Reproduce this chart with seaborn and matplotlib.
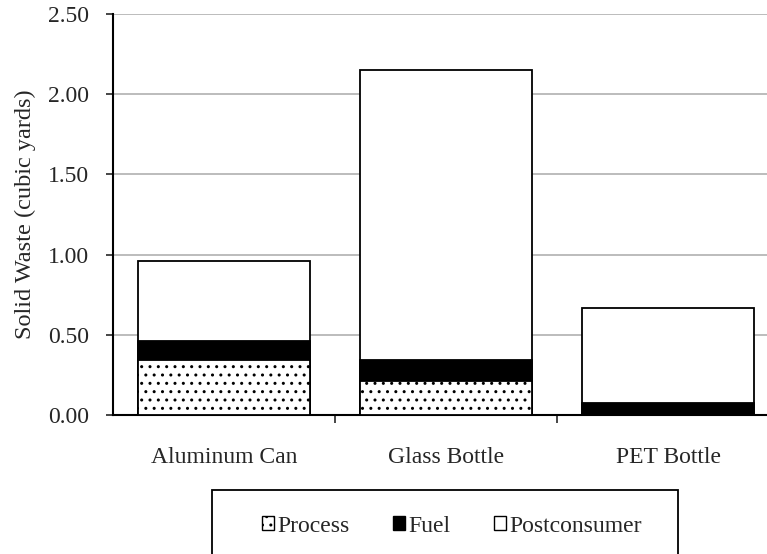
import matplotlib
matplotlib.use("Agg")
import matplotlib.pyplot as plt
import seaborn as sns
import pandas as pd
from matplotlib.patches import Patch, Rectangle

categories = ["Aluminum Can", "Glass Bottle", "PET Bottle"]
process = [0.34, 0.21, 0.0]
fuel = [0.12, 0.13, 0.075]
postconsumer = [0.50, 1.81, 0.595]
yticks = [0.0, 0.5, 1.0, 1.5, 2.0, 2.5]

sns.set_theme(style="white")
plt.rcParams["font.family"] = ["Liberation Serif", "DejaVu Serif"]
plt.rcParams["hatch.linewidth"] = 1.0
plt.rcParams["hatch.color"] = "#666666"

df = pd.DataFrame({"cat": categories, "process": process, "fuel": fuel, "post": postconsumer})
df["pf"] = df["process"] + df["fuel"]
df["total"] = df["pf"] + df["post"]

fig = plt.figure(figsize=(7.67, 5.54), dpi=100)
ax = fig.add_axes([113 / 767, 1 - 415 / 554, 666 / 767, 401 / 554])

w = 0.775
sns.barplot(data=df, x="cat", y="total", color="white", edgecolor="black", linewidth=1.3,
            width=w, saturation=1, ax=ax, zorder=3)
sns.barplot(data=df, x="cat", y="pf", color="black", edgecolor="black", linewidth=1.3,
            width=w, saturation=1, ax=ax, zorder=3)
sns.barplot(data=df, x="cat", y="process", color="white", edgecolor="black", linewidth=1.3,
            width=w, saturation=1, ax=ax, zorder=3, hatch="..")

ax.set_xlim(-0.5, 2.5)
ax.set_ylim(0, 2.5)
ax.set_yticks(yticks)
ax.set_yticklabels([f"{v:.2f}" for v in yticks])
ax.yaxis.grid(True, color="#b0b0b0", linewidth=1.2, zorder=0)
ax.set_axisbelow(True)
ax.set_xticks([0, 1, 2])
ax.set_xticklabels(categories)
ax.set_xlabel("")
ax.set_ylabel("Solid Waste (cubic yards)", fontsize=17.5, labelpad=9)
ax.tick_params(axis="y", which="both", left=True, length=5, width=1.2, labelsize=17, pad=12)
ax.tick_params(axis="x", which="major", bottom=False, labelsize=17, pad=17)
ax.set_xticks([0.5, 1.5], minor=True)
ax.tick_params(axis="x", which="minor", bottom=True, length=6, width=1.2)
for s in ["top", "right"]:
    ax.spines[s].set_visible(False)
for s in ["left", "bottom"]:
    ax.spines[s].set_color("black")
    ax.spines[s].set_linewidth(1.5)

# legend box
fig.patches.append(Rectangle((212 / 767, -0.05), (678 - 212) / 767, (554 - 490) / 554 + 0.05,
                             transform=fig.transFigure, facecolor="white", edgecolor="black",
                             linewidth=1.3, zorder=5))
handles = [Patch(facecolor="white", edgecolor="black", hatch="..", label="Process"),
           Patch(facecolor="black", edgecolor="black", label="Fuel"),
           Patch(facecolor="white", edgecolor="black", label="Postconsumer")]
leg = fig.legend(handles=handles, loc="center", bbox_to_anchor=(452 / 767, 1 - 526 / 554),
                 ncol=3, frameon=False, fontsize=17, handlelength=0.5, handleheight=0.5,
                 handletextpad=0.15, columnspacing=1.85)
leg.set_zorder(6)

fig.savefig("out.png", dpi=100)
